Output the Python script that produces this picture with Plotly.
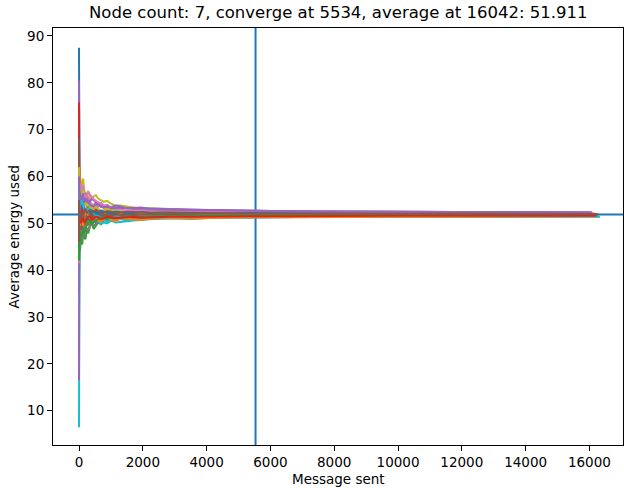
import plotly.graph_objects as go

# Message counts at which each run's running average energy was sampled
msg_x = [0, 1, 2, 4, 8, 15, 30, 60,
         100, 130, 160, 200, 240, 290, 340, 400, 460, 530, 600, 690, 780, 880,
         1000, 1150, 1300, 1500, 1700, 1950, 2200,
         2800, 3500, 4300, 5300, 6500, 8000, 9800, 11800, 14000, 16042]

# Final message count of each run
run_length = [16042, 16120, 16042, 16210, 16080, 16260, 16042, 16150, 16100, 16330,
              16042, 16180, 16060, 16240, 16090, 16280, 16042, 16130, 16070, 16300,
              16042, 16160, 16110, 16220, 16050, 16270]

# Running average energy of each run
run_00 = [87.5, 70, 64, 58, 55, 53, 54, 52.5,
          52.8, 53.6, 53.1, 52.1, 52.6, 53.0, 52.2, 51.7, 52.4, 52.6, 52.0, 51.6, 51.8, 52.2, 51.9, 51.8, 52.1, 52.4, 52.3, 52.0, 52.2,
          52.0, 51.9, 52.0, 52.1, 52.0, 51.9, 51.95, 52.0, 51.9, 51.9]
run_01 = [52, 58, 62, 57, 60, 56, 57, 55,
          56.5, 54.6, 55, 56.2, 53.5, 52.9, 54.5, 53.9, 53.2, 53.6, 52.8, 52.0, 52.2, 51.8, 51.6, 51.1, 51.2, 50.8, 51.0, 50.9, 51.3,
          51.2, 51.0, 51.2, 51.4, 51.5, 51.6, 51.5, 51.6, 51.7, 51.6]
run_02 = [38, 44, 42, 46, 43, 45, 44, 46.5,
          45.5, 47.8, 47, 46.6, 48.5, 47.9, 49.3, 50.1, 48.8, 49.6, 50.2, 49.8, 50.6, 50.9, 51.0, 50.6, 51.3, 51.5, 51.2, 51.3, 51.5,
          51.7, 51.6, 51.8, 51.7, 51.8, 51.9, 51.8, 51.9, 51.8, 51.8]
run_03 = [60, 55, 58, 54, 56, 53, 55, 54,
          53, 51.4, 52, 52.8, 51, 50.2, 51.5, 51.9, 50.5, 50.9, 51.2, 50.7, 51.0, 51.6, 51.4, 51.2, 51.8, 51.5, 51.6, 52.0, 51.9,
          52.1, 52.0, 51.9, 52.0, 52.1, 52.0, 52.1, 52.0, 52.0, 51.9]
run_04 = [80.5, 66, 61, 59, 57, 56, 55, 56.5,
          55.5, 56.3, 54.8, 54.2, 55.2, 55.6, 54.2, 53.6, 53.8, 54.4, 54.0, 53.5, 53.6, 53.9, 53.4, 53.0, 53.1, 53.5, 53.3, 53.0, 53.2,
          53.0, 52.9, 52.8, 52.7, 52.6, 52.5, 52.5, 52.4, 52.4, 52.3]
run_05 = [46, 52, 49, 51, 48.5, 50, 49, 51,
          50.2, 49.4, 51.2, 52.3, 51.8, 51.0, 51.4, 52.2, 52.0, 51.5, 51.7, 52.2, 51.9, 51.6, 52.0, 52.2, 51.8, 51.7, 52.0, 52.1, 51.9,
          52.0, 52.1, 52.0, 51.9, 52.0, 51.9, 52.0, 51.95, 51.9, 51.9]
run_06 = [58, 62, 59, 61, 58, 59, 57, 56,
          57.5, 58.2, 56.2, 55.4, 55.0, 55.8, 54.6, 54.1, 54.0, 53.7, 53.5, 53.9, 53.2, 52.8, 52.9, 53.1, 52.6, 52.4, 52.8, 52.9, 52.6,
          52.4, 52.5, 52.3, 52.4, 52.3, 52.2, 52.2, 52.1, 52.1, 52.0]
run_07 = [35, 42, 40, 45, 43, 46, 47, 46,
          48, 46.8, 47.5, 48.6, 49, 48.4, 49.8, 50.4, 49.5, 49.9, 50.3, 50.9, 50.8, 50.5, 51.0, 51.3, 51.4, 51.1, 51.3, 51.6, 51.5,
          51.6, 51.7, 51.6, 51.7, 51.8, 51.7, 51.8, 51.8, 51.8, 51.8]
run_08 = [65, 61, 63, 60, 62, 59.5, 60, 58,
          58.8, 59.6, 57, 56.4, 56.2, 56.9, 55.6, 55.1, 55.8, 56.0, 55.3, 54.9, 54.6, 54.8, 54.2, 53.8, 53.8, 53.6, 53.4, 53.1, 53.2,
          52.9, 52.7, 52.6, 52.5, 52.3, 52.2, 52.1, 52.1, 52.0, 52.0]
run_09 = [6.5, 30, 38, 44, 47, 49, 48, 50.5,
          49.8, 50.9, 51, 49.9, 50.2, 51.1, 50.6, 50.0, 51.2, 50.8, 50.4, 49.9, 50.2, 50.0, 50.5, 50.7, 50.9, 50.6, 50.8, 51.0, 51.0,
          51.1, 51.2, 51.3, 51.3, 51.4, 51.4, 51.5, 51.4, 51.4, 51.4]
run_10 = [50, 54, 52, 55, 53, 55.5, 54, 53,
          54.5, 55.1, 53.5, 53.0, 52.5, 53.4, 53.0, 52.6, 52.2, 52.8, 52.5, 52.1, 52.4, 52.6, 52.2, 52.0, 52.3, 52.4, 52.1, 52.3, 52.2,
          52.1, 52.2, 52.1, 52.1, 52.0, 52.0, 52.1, 52.0, 52.0, 52.0]
run_11 = [56, 61, 58, 62, 59, 60, 58.5, 56,
          57, 56.1, 55.5, 54.6, 54.2, 54.7, 53.8, 53.3, 53.2, 52.9, 52.6, 52.3, 52.4, 52.8, 52.6, 52.4, 52.2, 52.5, 52.4, 52.2, 52.3,
          52.5, 52.4, 52.3, 52.2, 52.3, 52.2, 52.1, 52.2, 52.1, 52.1]
run_12 = [44, 48, 46, 50, 47, 49, 48, 50,
          49.5, 48.6, 50.8, 51.6, 51.2, 50.5, 50.9, 51.3, 51.6, 51.9, 51.3, 51.0, 51.5, 51.7, 51.8, 51.5, 51.6, 51.9, 51.7, 51.6, 51.8,
          51.7, 51.8, 51.7, 51.8, 51.8, 51.9, 51.8, 51.8, 51.8, 51.8]
run_13 = [75.8, 62, 57, 54, 51, 49, 50, 48.5,
          49.2, 48.4, 50.5, 50.9, 49.6, 49.8, 50.4, 51.2, 50.9, 50.3, 50.6, 51.0, 51.2, 50.8, 51.0, 51.3, 51.3, 51.1, 51.2, 51.4, 51.3,
          51.2, 51.3, 51.4, 51.3, 51.4, 51.5, 51.5, 51.5, 51.6, 51.6]
run_14 = [16.5, 36, 43, 48, 51, 54, 53, 55,
          54, 55.3, 56, 56.5, 55.2, 54.8, 54.6, 55.3, 55.0, 54.5, 54.1, 54.3, 53.8, 53.4, 53.5, 53.8, 53.6, 53.2, 53.3, 53.4, 53.1,
          53.0, 52.9, 52.8, 52.7, 52.6, 52.5, 52.5, 52.4, 52.4, 52.3]
run_15 = [68, 58, 54, 50, 47, 46, 48, 47.5,
          49, 47.9, 48.8, 49.7, 50.2, 51.1, 50.8, 50.4, 51.4, 51.6, 51.0, 51.2, 51.5, 51.9, 51.8, 51.5, 51.6, 51.9, 51.8, 51.7, 51.9,
          51.8, 51.9, 52.0, 51.9, 52.0, 51.9, 52.0, 51.9, 51.9, 51.9]
run_16 = [41.5, 47, 45, 50, 52, 55, 57, 58.5,
          57.2, 58.0, 56.5, 55.4, 55.8, 56.6, 56.2, 55.6, 55.2, 54.8, 54.5, 54.0, 53.8, 53.9, 53.4, 53.1, 53.0, 52.7, 52.8, 52.9, 52.7,
          52.6, 52.5, 52.4, 52.3, 52.3, 52.2, 52.2, 52.1, 52.1, 52.1]
run_17 = [48, 45, 47, 44, 46, 45, 47, 48.5,
          48, 49.2, 49.5, 48.7, 50.0, 50.6, 49.6, 50.1, 50.5, 50.2, 50.8, 51.1, 51.2, 50.9, 51.1, 51.5, 51.4, 51.2, 51.3, 51.5, 51.5,
          51.6, 51.6, 51.7, 51.7, 51.7, 51.8, 51.7, 51.8, 51.8, 51.8]
run_18 = [62, 58, 60, 56, 58, 56, 57.5, 55,
          56, 57.1, 54.8, 53.9, 54.0, 54.5, 53.5, 53.1, 53.8, 53.5, 53.2, 52.7, 52.8, 53.1, 52.9, 52.7, 52.6, 52.3, 52.4, 52.5, 52.2,
          52.3, 52.2, 52.1, 52.2, 52.1, 52.0, 52.0, 52.0, 52.0, 51.9]
run_19 = [54, 57, 55, 58, 56, 57, 55.5, 54,
          55, 54.1, 53.2, 52.0, 52.4, 53.3, 53.0, 52.6, 52.2, 51.7, 51.6, 51.2, 51.0, 50.4, 50.6, 50.2, 50.3, 50.5, 50.6, 50.7, 50.9,
          51.1, 51.0, 51.2, 51.3, 51.3, 51.4, 51.4, 51.5, 51.5, 51.5]
run_20 = [45, 49, 47, 50, 49, 51, 50, 52,
          51.5, 50.8, 52.4, 52.9, 51.8, 51.5, 52.2, 52.8, 52.6, 52.1, 52.3, 52.7, 52.5, 52.2, 52.3, 52.5, 52.4, 52.1, 52.2, 52.4, 52.3,
          52.2, 52.2, 52.1, 52.2, 52.1, 52.1, 52.0, 52.0, 52.0, 52.0]
run_21 = [47, 50, 48, 52, 50, 51, 49.5, 51,
          50.2, 49.5, 51.5, 52.3, 52.0, 51.6, 51.3, 50.8, 51.0, 51.2, 50.6, 50.4, 50.9, 51.1, 50.7, 50.5, 51.0, 51.1, 50.8, 50.7, 51.0,
          51.2, 51.1, 51.2, 51.3, 51.3, 51.4, 51.4, 51.4, 51.5, 51.5]
run_22 = [42, 46, 44, 47, 45.5, 47, 46, 48,
          47.4, 48.5, 49, 48.4, 49.8, 50.6, 50.4, 49.9, 50.2, 50.7, 50.9, 51.3, 51.1, 50.9, 51.3, 51.1, 51.2, 51.5, 51.4, 51.3, 51.5,
          51.6, 51.6, 51.7, 51.7, 51.8, 51.8, 51.8, 51.8, 51.9, 51.9]
run_23 = [55, 52, 54, 51, 52.5, 50.5, 51.5, 50,
          50.8, 51.6, 50.2, 50.5, 50.9, 51.5, 51.4, 50.8, 51.0, 51.4, 51.3, 50.9, 51.1, 51.4, 51.3, 51.1, 51.2, 51.3, 51.4, 51.2, 51.3,
          51.4, 51.4, 51.5, 51.5, 51.5, 51.6, 51.6, 51.6, 51.6, 51.6]
run_24 = [60, 57, 59, 56, 58, 55, 56.5, 55,
          55.6, 56.4, 54.4, 55.1, 54.8, 54.3, 54.0, 53.7, 53.6, 54.1, 53.9, 53.5, 53.4, 53.7, 53.2, 53.3, 53.4, 53.2, 53.1, 53.2, 53.0,
          52.9, 52.8, 52.8, 52.7, 52.6, 52.5, 52.5, 52.4, 52.4, 52.3]
run_25 = [46, 55, 50, 53, 49, 51.5, 50.5, 52.5,
          51.8, 51.2, 52.6, 53.1, 52.2, 52.5, 52.8, 52.3, 52.4, 52.9, 52.6, 52.2, 52.3, 52.6, 52.5, 52.2, 52.3, 52.5, 52.4, 52.3, 52.2,
          52.3, 52.2, 52.2, 52.1, 52.1, 52.1, 52.0, 52.0, 52.0, 52.0]

runs = [run_00, run_01, run_02, run_03, run_04, run_05, run_06, run_07, run_08, run_09,
        run_10, run_11, run_12, run_13, run_14, run_15, run_16, run_17, run_18, run_19,
        run_20, run_21, run_22, run_23, run_24, run_25]

converge_at = 5534
average_value = 51.911
average_at = 16042
node_count = 7

palette = ["#1f77b4", "#ff7f0e", "#2ca02c", "#d62728", "#9467bd",
           "#8c564b", "#e377c2", "#7f7f7f", "#bcbd22", "#17becf"]

fig = go.Figure()
for i, ys in enumerate(runs):
    xs = msg_x[:-1] + [run_length[i]]
    fig.add_trace(go.Scatter(
        x=xs, y=ys, mode="lines",
        line=dict(color=palette[i % len(palette)], width=2),
        showlegend=False, hoverinfo="skip",
    ))

# Reference lines: convergence point and final average
fig.add_shape(type="line", xref="x", yref="paper", x0=converge_at, x1=converge_at,
              y0=0, y1=1, line=dict(color="#1f77b4", width=2), layer="below")
fig.add_shape(type="line", xref="paper", yref="y", x0=0, x1=1,
              y0=average_value, y1=average_value,
              line=dict(color="#1f77b4", width=2), layer="below")

font_family = "DejaVu Sans"
fig.update_layout(
    width=624, height=488,
    margin=dict(l=53, r=1, t=28, b=43),
    paper_bgcolor="white", plot_bgcolor="white",
    font=dict(family=font_family, size=14, color="black"),
    xaxis=dict(
        range=[-815, 17053], tickvals=[0, 2000, 4000, 6000, 8000, 10000, 12000, 14000, 16000],
        ticktext=["0", "2000", "4000", "6000", "8000", "10000", "12000", "14000", "16000"],
        showgrid=False, zeroline=False, showline=True, linecolor="black", linewidth=1,
        mirror=True, ticks="outside", ticklen=5, tickcolor="black", tickwidth=1,
        tickfont=dict(size=13.5),
    ),
    yaxis=dict(
        range=[2.69, 91.7], tickvals=[10, 20, 30, 40, 50, 60, 70, 80, 90],
        showgrid=False, zeroline=False, showline=True, linecolor="black", linewidth=1,
        mirror=True, ticks="outside", ticklen=5, tickcolor="black", tickwidth=1,
        tickfont=dict(size=13.5),
    ),
    annotations=[
        dict(text=f"Node count: {node_count}, converge at {converge_at}, average at {average_at}: {average_value}",
             xref="paper", yref="paper", x=0.5, y=1, xanchor="center", yanchor="bottom",
             yshift=4, showarrow=False, font=dict(size=16.5)),
        dict(text="Message sent", xref="paper", yref="paper", x=0.5, y=0,
             xanchor="center", yanchor="top", yshift=-24, showarrow=False,
             font=dict(size=13.5)),
        dict(text="Average energy used", xref="paper", yref="paper", x=0, y=0.5,
             xanchor="right", yanchor="middle", xshift=-30, textangle=-90,
             showarrow=False, font=dict(size=13.5)),
    ],
)

fig.write_html("out.html")
